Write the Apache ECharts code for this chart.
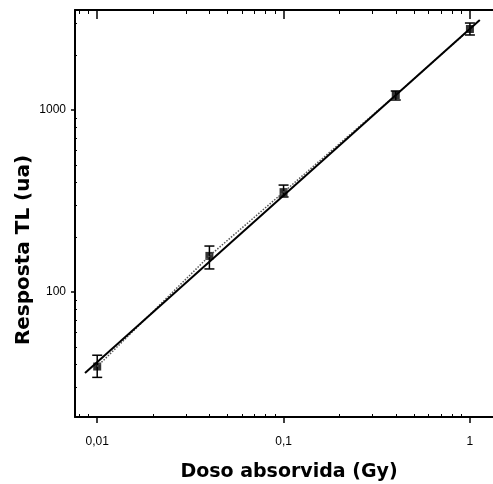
<!DOCTYPE html>
<html>
<head>
<meta charset="utf-8">
<script src="https://cdn.jsdelivr.net/npm/echarts@6/dist/echarts.min.js"></script>
<style>
  html, body { margin: 0; padding: 0; background: #fff; }
  #chart { width: 493px; height: 484px; }
</style>
</head>
<body>
<div id="chart"></div>
<script>
// dados
const doses = [0.01, 0.04, 0.1, 0.4, 1]
const resposta = [39, 158, 354, 1209, 2787]
const errBaixo = [34, 134, 333, 1135, 2583]
const errAlto = [45, 179, 387, 1272, 3005]
// reta de ajuste (extremos)
const ajusteX = [0.0086, 1.13]
const ajusteY = [35.9, 3122]
// ticks
const xMajor = [0.01, 0.1, 1]
const xLabels = ['0,01', '0,1', '1']
const xMinor = [0.008, 0.009, 0.02, 0.03, 0.04, 0.05, 0.06, 0.07, 0.08, 0.09,
  0.2, 0.3, 0.4, 0.5, 0.6, 0.7, 0.8, 0.9]
const yMajor = [100, 1000]
const yLabels = ['100', '1000']
const yMinor = [30, 40, 50, 60, 70, 80, 90, 200, 300, 400, 500, 600, 700, 800, 900, 2000, 3000]

const nomeX = 'Doso absorvida (Gy)'
const nomeY = 'Resposta TL (ua)'

const xMin = 0.0076, xMax = 1.33
const yMin = 20.6, yMax = 3543

const findLabel = (v, vals, labels) => {
  let i = vals.findIndex(t => Math.abs(Math.log10(t) - Math.log10(v)) < 1e-6)
  return i >= 0 ? labels[i] : ''
}

let chart = echarts.init(document.getElementById('chart'))

const rect = () => ({ left: 75, right: 0, top: 10, bottom: 67 })
const black = () => ({ color: '#000', width: 2 })
const logX = (extra) => Object.assign({ type: 'log', min: xMin, max: xMax, splitLine: { show: false } }, extra)
const logY = (extra) => Object.assign({ type: 'log', min: yMin, max: yMax, splitLine: { show: false } }, extra)
const nameFont = (size) => ({ fill: '#000', fontSize: size, fontWeight: 'bold', fontFamily: 'DejaVu Sans', align: 'center', verticalAlign: 'middle' })

chart.setOption({
  animation: false,
  // grid 1 = mesmo retangulo, so para os ticks secundarios
  grid: [rect(), rect()],
  graphic: [
    { type: 'text', x: 289, y: 472, style: Object.assign({ text: nomeX }, nameFont(19)) },
    { type: 'text', x: 24, y: 250, rotation: Math.PI / 2, style: Object.assign({ text: nomeY }, nameFont(20)) }
  ],
  xAxis: [
    logX({
      position: 'bottom',
      axisLine: { lineStyle: black() },
      axisTick: { customValues: xMajor, length: 6, lineStyle: { color: '#000', width: 1.5 } },
      axisLabel: {
        customValues: xMajor,
        formatter: v => findLabel(v, xMajor, xLabels),
        color: '#000', fontSize: 12, fontFamily: 'Liberation Sans', margin: 19
      }
    }),
    logX({
      position: 'top',
      axisLine: { lineStyle: black() },
      axisTick: { customValues: xMajor, inside: true, length: 9, lineStyle: { color: '#000', width: 1.5 } },
      axisLabel: { show: false }
    }),
    logX({
      gridIndex: 1,
      position: 'bottom',
      axisLine: { show: false },
      axisTick: { customValues: xMinor, inside: true, length: 3, lineStyle: { color: '#000', width: 1 } },
      axisLabel: { show: false }
    }),
    logX({
      gridIndex: 1,
      position: 'top',
      axisLine: { show: false },
      axisTick: { customValues: xMinor, inside: true, length: 4, lineStyle: { color: '#000', width: 1 } },
      axisLabel: { show: false }
    })
  ],
  yAxis: [
    logY({
      position: 'left',
      axisLine: { lineStyle: black() },
      axisTick: { customValues: yMajor, length: 4, lineStyle: { color: '#000', width: 1.5 } },
      axisLabel: {
        customValues: yMajor,
        formatter: v => findLabel(v, yMajor, yLabels),
        color: '#000', fontSize: 12, fontFamily: 'Liberation Sans', margin: 9
      }
    }),
    logY({
      gridIndex: 1,
      position: 'left',
      axisLine: { show: false },
      axisTick: { customValues: yMinor, inside: true, length: 2, lineStyle: { color: '#000', width: 1 } },
      axisLabel: { show: false }
    })
  ],
  series: [
    {
      // linha pontilhada ligando os pontos
      type: 'line',
      data: doses.map((d, i) => [d, resposta[i]]),
      symbol: 'none',
      lineStyle: { color: '#555', width: 1.5, type: 'dotted' }
    },
    {
      // ajuste
      type: 'line',
      data: ajusteX.map((d, i) => [d, ajusteY[i]]),
      symbol: 'none',
      lineStyle: { color: '#000', width: 2 }
    },
    {
      // barras de erro
      type: 'custom',
      data: doses.map((d, i) => [d, errBaixo[i], errAlto[i]]),
      encode: { x: 0, y: [1, 2] },
      renderItem: (params, api) => {
        let lo = api.coord([api.value(0), api.value(1)])
        let hi = api.coord([api.value(0), api.value(2)])
        let w = 5
        let st = { stroke: '#000', lineWidth: 1.5 }
        return {
          type: 'group',
          children: [
            { type: 'line', shape: { x1: lo[0], y1: lo[1], x2: hi[0], y2: hi[1] }, style: st },
            { type: 'line', shape: { x1: lo[0] - w, y1: lo[1], x2: lo[0] + w, y2: lo[1] }, style: st },
            { type: 'line', shape: { x1: hi[0] - w, y1: hi[1], x2: hi[0] + w, y2: hi[1] }, style: st }
          ]
        }
      }
    },
    {
      type: 'scatter',
      data: doses.map((d, i) => [d, resposta[i]]),
      symbol: 'rect',
      symbolSize: 8,
      itemStyle: { color: '#000' }
    }
  ]
})
</script>
</body>
</html>
